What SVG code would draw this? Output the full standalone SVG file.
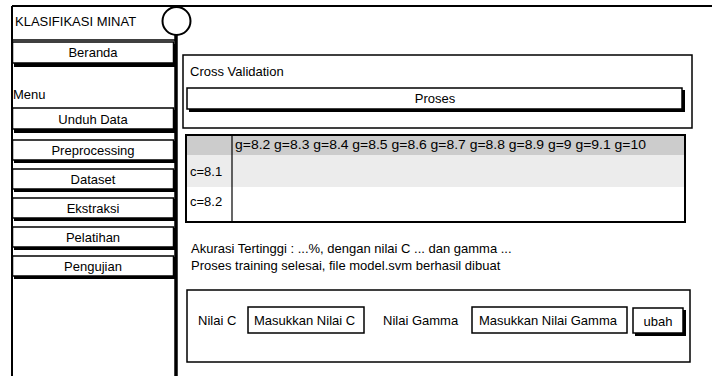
<svg xmlns="http://www.w3.org/2000/svg" width="712" height="376" viewBox="0 0 712 376">
<style>
text{font-family:"Liberation Sans",Arial,sans-serif;font-size:13px;fill:#000}
.c{text-anchor:middle}
.b{fill:#fff;stroke:#000;stroke-width:1.5}
.sh{fill:#000}
.ln{stroke:#000;fill:none}
</style>
<rect width="712" height="376" fill="#fff"/>
<g id="sidebar">
<line class="ln" x1="12" y1="6" x2="712" y2="6" stroke-width="2"/>
<line class="ln" x1="12" y1="6" x2="12" y2="376" stroke-width="2"/>
<line class="ln" x1="176" y1="35" x2="176" y2="376" stroke-width="3.5"/>
<line class="ln" x1="12" y1="40" x2="176" y2="40" stroke-width="1.5"/>
<circle cx="176.5" cy="21" r="14" fill="#fff" stroke="#000" stroke-width="2"/>
<text x="15" y="26">KLASIFIKASI MINAT</text>
<text x="13" y="99">Menu</text>
</g>
<g id="btn-beranda"><rect class="sh" x="14" y="44" width="162" height="23"/><rect class="b" x="12.5" y="42" width="161" height="21"/><text class="c" x="93" y="57">Beranda</text></g>
<g id="btn-unduh"><rect class="sh" x="14" y="110" width="162" height="23"/><rect class="b" x="12.5" y="108" width="161" height="21"/><text class="c" x="93" y="124">Unduh Data</text></g>
<g id="btn-preprocessing"><rect class="sh" x="14" y="141" width="162" height="22"/><rect class="b" x="12.5" y="140" width="161" height="20"/><text class="c" x="93" y="155">Preprocessing</text></g>
<g id="btn-dataset"><rect class="sh" x="14" y="170" width="162" height="22"/><rect class="b" x="12.5" y="169" width="161" height="20"/><text class="c" x="93" y="184">Dataset</text></g>
<g id="btn-ekstraksi"><rect class="sh" x="14" y="199" width="162" height="22"/><rect class="b" x="12.5" y="198" width="161" height="20"/><text class="c" x="93" y="213">Ekstraksi</text></g>
<g id="btn-pelatihan"><rect class="sh" x="14" y="228" width="162" height="22"/><rect class="b" x="12.5" y="227" width="161" height="20"/><text class="c" x="93" y="242">Pelatihan</text></g>
<g id="btn-pengujian"><rect class="sh" x="14" y="257" width="162" height="22"/><rect class="b" x="12.5" y="256" width="161" height="20"/><text class="c" x="93" y="271">Pengujian</text></g>
<g id="cross-validation">
<rect class="b" x="183" y="55" width="509" height="73"/>
<text x="190" y="76">Cross Validation</text>
<rect class="sh" x="189" y="90" width="496" height="22"/>
<rect class="b" x="187" y="88" width="495" height="21"/>
<text class="c" x="435" y="103">Proses</text>
</g>
<g id="table">
<rect x="186" y="135" width="499" height="20" fill="#cccccc"/>
<rect x="186" y="155" width="499" height="32" fill="#ececec"/>
<rect x="186" y="135" width="499" height="87" fill="none" stroke="#000" stroke-width="2"/>
<line class="ln" x1="232" y1="135" x2="232" y2="222" stroke-width="1.2"/>
<text x="235" y="149" font-size="13" textLength="411" lengthAdjust="spacingAndGlyphs">g=8.2 g=8.3 g=8.4 g=8.5 g=8.6 g=8.7 g=8.8 g=8.9 g=9 g=9.1 g=10</text>
<text x="190" y="176">c=8.1</text>
<text x="190" y="206">c=8.2</text>
</g>
<g id="result">
<text x="191" y="253">Akurasi Tertinggi : ...%, dengan nilai C ... dan gamma ...</text>
<text x="191" y="270">Proses training selesai, file model.svm berhasil dibuat</text>
</g>
<g id="parameter-form">
<rect class="b" x="187" y="290" width="503" height="72"/>
<text x="198" y="325">Nilai C</text>
<rect class="b" x="248" y="307" width="116" height="26"/>
<text x="254" y="325">Masukkan Nilai C</text>
<text x="383" y="325">Nilai Gamma</text>
<rect class="b" x="472" y="307" width="155" height="26"/>
<text x="479" y="325">Masukkan Nilai Gamma</text>
<rect class="sh" x="635" y="310" width="51" height="26"/>
<rect class="b" x="633" y="308" width="50" height="25"/>
<text class="c" x="658" y="326">ubah</text>
</g>
</svg>
